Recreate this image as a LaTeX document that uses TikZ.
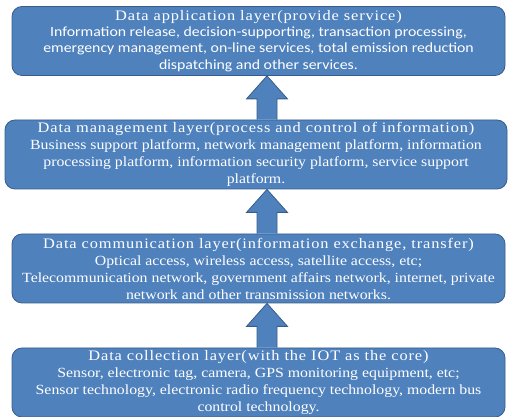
\documentclass[tikz,border=0pt]{standalone}
\usepackage{fontspec}
\setmainfont{Liberation Serif}[FakeStretch=1.13]
\newfontfamily\titlefont{Liberation Serif}[FakeStretch=1.13, LetterSpace=6]
\newfontfamily\calibri{Carlito}[FakeStretch=1.13]
\usetikzlibrary{calc}
\definecolor{layerblue}{HTML}{4F81BD}
\definecolor{layeredge}{HTML}{385D8A}

\begin{document}
\begin{tikzpicture}[x=1pt, y=1pt,
  layer/.style={draw=layeredge, fill=layerblue, rounded corners=10pt, line width=0.8pt,
                minimum width=493pt, minimum height=69pt, inner sep=0pt,
                text=white, align=center, font=\fontsize{14}{17}\selectfont},
  uparr/.style={draw=layeredge, fill=layerblue, line width=0.8pt, line join=miter}
]
  \useasboundingbox (0,0) rectangle (508,417);

  \node[layer, font=\fontsize{14}{16.2}\selectfont] (app) at (258.5,376) {{\titlefont\fontsize{14.5}{16.2}\selectfont Data application layer(provide service)}\\
    {\calibri Information release, decision-supporting, transaction processing,}\\
    {\calibri emergency management, on-line services, total emission reduction}\\
    {\calibri dispatching and other services.}};
  \node[layer, minimum width=502pt] (mgmt) at (256,262.5) {{\titlefont\fontsize{14.5}{17}\selectfont Data management layer(process and control of information)}\\
    Business support platform, network management platform, information\\
    processing platform, information security platform, service support\\
    platform.};
  \node[layer] (comm) at (258.5,148.5) {{\titlefont\fontsize{14.5}{17}\selectfont Data communication layer(information exchange, transfer)}\\
    Optical access, wireless access, satellite access, etc;\\
    Telecommunication network, government affairs network, internet, private\\
    network and other transmission networks.};
  \node[layer] (coll) at (258.5,34.5) {{\titlefont\fontsize{14.5}{17}\selectfont Data collection layer(with the IOT as the core)}\\
    Sensor, electronic tag, camera, GPS monitoring equipment, etc;\\
    Sensor technology, electronic radio frequency technology, modern bus\\
    control technology.};

  % block arrows between the layers, all on one axis
  \coordinate (axis) at (267,0);
  \newcommand{\layerarrow}[2]{%
    \draw[uparr] ($(axis |- #1.north)+(-10,0)$) -- ($(axis |- #2.south)+(-10,-23)$)
      -- ++(-10.5,0) -- (axis |- #2.south) -- ($(axis |- #2.south)+(20.5,-23)$)
      -- ++(-10.5,0) -- ($(axis |- #1.north)+(10,0)$);}
  \layerarrow{mgmt}{app}
  \layerarrow{comm}{mgmt}
  \layerarrow{coll}{comm}
\end{tikzpicture}
\end{document}
